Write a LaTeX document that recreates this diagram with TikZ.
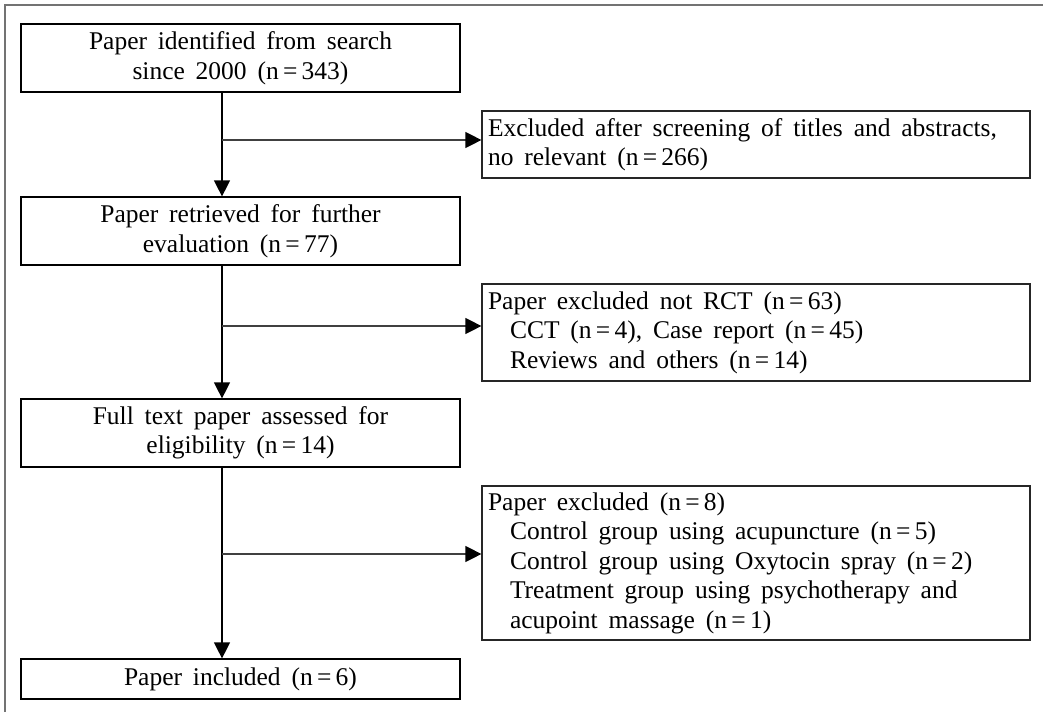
\documentclass[tikz,border=0pt]{standalone}
\usepackage{fontspec}
\setmainfont[WordSpace=1.7]{Liberation Serif}
\usetikzlibrary{arrows.meta}
\newcommand{\nq}[1]{(n\,=\,#1)}
\begin{document}
\begin{tikzpicture}[x=1pt,y=-1pt,
  every node/.style={font=\fontsize{25.5}{29.5}\selectfont},
  leftbox/.style={draw=black,line width=1.2pt,minimum width=439pt,inner sep=0pt,align=center},
  rightbox/.style={draw=black!85,line width=1.2pt,text width=536pt,inner xsep=6pt,inner ysep=0pt,align=flush left},
  arr/.style={line width=1.2pt,-{Triangle[length=16pt,width=16pt,color=black]}},
  harr/.style={arr,draw=black!75}]
\useasboundingbox (0,0) rectangle (1043,712);
\draw[black!55,line width=2pt] (5,712) -- (5,5) -- (1043,5);
\node[leftbox,minimum height=68pt] (b1) at (240.5,58) {Paper identified from search\\since 2000 \nq{343}};
\node[rightbox,minimum height=67pt] (b2) at (756,144.5) {Excluded after screening of titles and abstracts,\\no relevant \nq{266}};
\node[leftbox,minimum height=68pt] (b3) at (240.5,231) {Paper retrieved for further\\evaluation \nq{77}};
\node[rightbox,minimum height=97pt] (b4) at (756,332.5) {Paper excluded not RCT \nq{63}\\\hspace*{22pt}CCT \nq{4}, Case report \nq{45}\\\hspace*{22pt}Reviews and others \nq{14}};
\node[leftbox,minimum height=68pt] (b5) at (240.5,433) {Full text paper assessed for\\eligibility \nq{14}};
\node[rightbox,minimum height=154pt] (b6) at (756,563) {Paper excluded \nq{8}\\\hspace*{22pt}Control group using acupuncture \nq{5}\\\hspace*{22pt}Control group using Oxytocin spray \nq{2}\\\hspace*{22pt}Treatment group using psychotherapy and\\\hspace*{22pt}acupoint massage \nq{1}};
\node[leftbox,minimum height=40pt] (b7) at (240.5,679) {Paper included \nq{6}};
\coordinate (j1) at (222,140);
\coordinate (j2) at (222,326);
\coordinate (j3) at (222,554);
\draw[arr] (j1 |- b1.south) -- (j1 |- b3.north);
\draw[arr] (j2 |- b3.south) -- (j2 |- b5.north);
\draw[arr] (j3 |- b5.south) -- (j3 |- b7.north);
\draw[harr] (j1) -- (j1 -| b2.west);
\draw[harr] (j2) -- (j2 -| b4.west);
\draw[harr] (j3) -- (j3 -| b6.west);
\end{tikzpicture}
\end{document}
